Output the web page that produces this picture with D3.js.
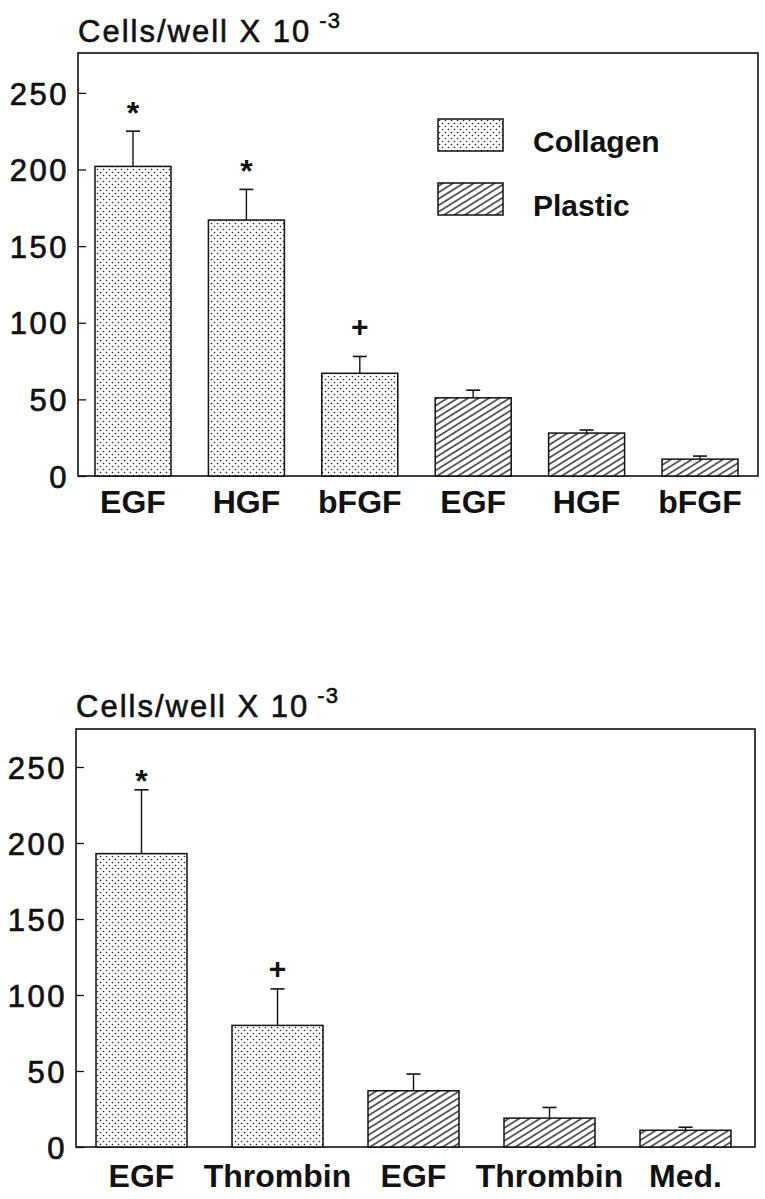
<!DOCTYPE html>
<html>
<head>
<meta charset="utf-8">
<script src="https://cdn.jsdelivr.net/npm/d3@7"></script>
<style>
    body { margin: 0; background: #fff; }
    text { font-family: "Liberation Sans", Arial, sans-serif; fill: #111; }
</style>
</head>
<body>
<div id="chart"></div>
<script>
// top panel: growth factors on collagen vs plastic
const topLabels = ['EGF', 'HGF', 'bFGF', 'EGF', 'HGF', 'bFGF']
const topValues = [202, 167, 67, 51, 28, 11]
const topErrors = [225, 187, 78, 56, 30, 13]
const topGroups = ['Collagen', 'Collagen', 'Collagen', 'Plastic', 'Plastic', 'Plastic']
const topMarks = ['*', '*', '+', '', '', '']

// bottom panel: EGF / thrombin
const botLabels = ['EGF', 'Thrombin', 'EGF', 'Thrombin', 'Med.']
const botValues = [193, 80, 37, 19, 11]
const botErrors = [235, 104, 48, 26, 13]
const botGroups = ['Collagen', 'Collagen', 'Plastic', 'Plastic', 'Plastic']
const botMarks = ['*', '+', '', '', '']

const yTicks = [0, 50, 100, 150, 200, 250]
const legendItems = ['Collagen', 'Plastic']

var svg = d3.select('#chart')
    .append('svg')
    .attr('width', 765)
    .attr('height', 1199)

svg.append('rect')
    .attr('width', 765)
    .attr('height', 1199)
    .attr('fill', '#fff')

// fill patterns
var defs = svg.append('defs')
var dots = defs.append('pattern')
    .attr('id', 'dots')
    .attr('patternUnits', 'userSpaceOnUse')
    .attr('width', 6)
    .attr('height', 6)
dots.append('rect').attr('width', 6).attr('height', 6).attr('fill', '#fff')
dots.append('circle').attr('cx', 1.5).attr('cy', 1.5).attr('r', 0.8).attr('fill', '#222')
dots.append('circle').attr('cx', 4.5).attr('cy', 4.5).attr('r', 0.8).attr('fill', '#222')

var hatch = defs.append('pattern')
    .attr('id', 'hatch')
    .attr('patternUnits', 'userSpaceOnUse')
    .attr('width', 10)
    .attr('height', 5.5)
    .attr('patternTransform', 'rotate(-32)')
hatch.append('rect').attr('width', 10).attr('height', 5.5).attr('fill', '#fff')
hatch.append('line')
    .attr('x1', 0).attr('x2', 10)
    .attr('y1', 2.75).attr('y2', 2.75)
    .attr('stroke', '#111')
    .attr('stroke-width', 1.3)

function fillFor(group){
    return group == 'Collagen' ? 'url(#dots)' : 'url(#hatch)'
}

function panel(cfg){
    var x_scale = d3.scaleBand()
        .domain(d3.range(cfg.labels.length))
        .range([cfg.barLeft, cfg.barRight])
        .paddingInner(cfg.pad)
        .paddingOuter(0)

    var y_scale = d3.scaleLinear()
        .domain([0, cfg.yMax])
        .range([cfg.bottom, cfg.top])

    var g = svg.append('g')

    // Title
    var title = g.append('text')
        .attr('x', cfg.left)
        .attr('y', cfg.titleY)
        .attr('font-size', 31)
        .attr('letter-spacing', 2)
        .attr('stroke', '#111')
        .attr('stroke-width', 0.6)
        .text('Cells/well X 10')
    title.append('tspan')
        .attr('dx', 8)
        .attr('dy', -14)
        .attr('font-size', 22)
        .attr('letter-spacing', 1)
        .text('-3')

    // Frame
    g.append('rect')
        .attr('x', cfg.left)
        .attr('y', cfg.top)
        .attr('width', cfg.right - cfg.left)
        .attr('height', cfg.bottom - cfg.top)
        .attr('fill', 'none')
        .attr('stroke', '#111')
        .attr('stroke-width', 1.6)

    // Y axis
    var y_axis = d3.axisLeft(y_scale)
        .tickValues(yTicks)
        .tickSizeInner(-8)
        .tickSizeOuter(0)
        .tickPadding(9)
    var ax = g.append('g')
        .attr('class', 'y-axis')
        .attr('transform', 'translate(' + cfg.left + ',0)')
        .call(y_axis)
    ax.select('.domain').remove()
    ax.selectAll('line').attr('stroke', '#111').attr('stroke-width', 1.3)
    ax.selectAll('text')
        .attr('font-size', 31)
        .attr('letter-spacing', 2.5)
        .attr('font-family', '"Liberation Sans", Arial, sans-serif')
        .attr('fill', '#111')
        .attr('stroke', '#111')
        .attr('stroke-width', 0.7)
        .attr('dy', '0.36em')

    // X labels
    var x_axis = d3.axisBottom(x_scale)
        .tickSize(0)
        .tickPadding(0)
        .tickFormat(function(d){ return cfg.labels[d] })
    var xa = g.append('g')
        .attr('class', 'x-axis')
        .attr('transform', 'translate(0,' + cfg.labelY + ')')
        .call(x_axis)
    xa.select('.domain').remove()
    xa.selectAll('text')
        .attr('dy', 0)
        .attr('font-size', 32)
        .attr('font-weight', 'bold')
        .attr('font-family', '"Liberation Sans", Arial, sans-serif')
        .attr('fill', '#111')

    // Error bars
    var err = g.append('g')
    cfg.values.forEach(function(v, i){
        var cx = x_scale(i) + x_scale.bandwidth() / 2
        err.append('line')
            .attr('x1', cx).attr('x2', cx)
            .attr('y1', y_scale(v)).attr('y2', y_scale(cfg.errors[i]))
            .attr('stroke', '#111').attr('stroke-width', 1.4)
        err.append('line')
            .attr('x1', cx - 7).attr('x2', cx + 7)
            .attr('y1', y_scale(cfg.errors[i])).attr('y2', y_scale(cfg.errors[i]))
            .attr('stroke', '#111').attr('stroke-width', 1.6)
    })

    // Bars
    g.append('g')
        .attr('class', 'bars')
        .selectAll('rect')
        .data(cfg.values)
        .enter()
        .append('rect')
        .attr('x', function(d, i){ return x_scale(i) })
        .attr('y', function(d){ return y_scale(d) })
        .attr('width', x_scale.bandwidth())
        .attr('height', function(d){ return y_scale(0) - y_scale(d) })
        .attr('fill', function(d, i){ return fillFor(cfg.groups[i]) })
        .attr('stroke', '#111')
        .attr('stroke-width', 1.5)

    // Significance marks
    g.append('g')
        .selectAll('text')
        .data(cfg.marks)
        .enter()
        .append('text')
        .attr('x', function(d, i){ return x_scale(i) + x_scale.bandwidth() / 2 })
        .attr('y', function(d, i){ return y_scale(cfg.errors[i]) - cfg.markGap })
        .attr('text-anchor', 'middle')
        .attr('font-size', function(d){ return d == '*' ? 32 : 30 })
        .attr('font-weight', 'bold')
        .attr('dy', function(d){ return d == '*' ? '0.7em' : '0.35em' })
        .text(function(d){ return d })

    return g
}

panel({
    labels: topLabels, values: topValues, errors: topErrors,
    groups: topGroups, marks: topMarks,
    left: 78, right: 758, top: 53, bottom: 476, yMax: 276,
    barLeft: 95, barRight: 738, pad: 0.33,
    titleY: 42, labelY: 513, markGap: 30
})

panel({
    labels: botLabels, values: botValues, errors: botErrors,
    groups: botGroups, marks: botMarks,
    left: 76, right: 755, top: 729, bottom: 1147, yMax: 275,
    barLeft: 96, barRight: 731, pad: 0.331,
    titleY: 717, labelY: 1187, markGap: 20
})

// Legend (top panel)
var legend = svg.append('g')
    .selectAll('g')
    .data(legendItems)
    .enter()
    .append('g')
    .attr('transform', function(d, i){ return 'translate(438,' + (119 + i * 64) + ')' })
legend.append('rect')
    .attr('width', 65)
    .attr('height', 32)
    .attr('fill', function(d){ return fillFor(d) })
    .attr('stroke', '#111')
    .attr('stroke-width', 1.5)
legend.append('text')
    .attr('x', 95)
    .attr('y', 33)
    .attr('font-size', 30)
    .attr('font-weight', 'bold')
    .text(function(d){ return d })
</script>
</body>
</html>
